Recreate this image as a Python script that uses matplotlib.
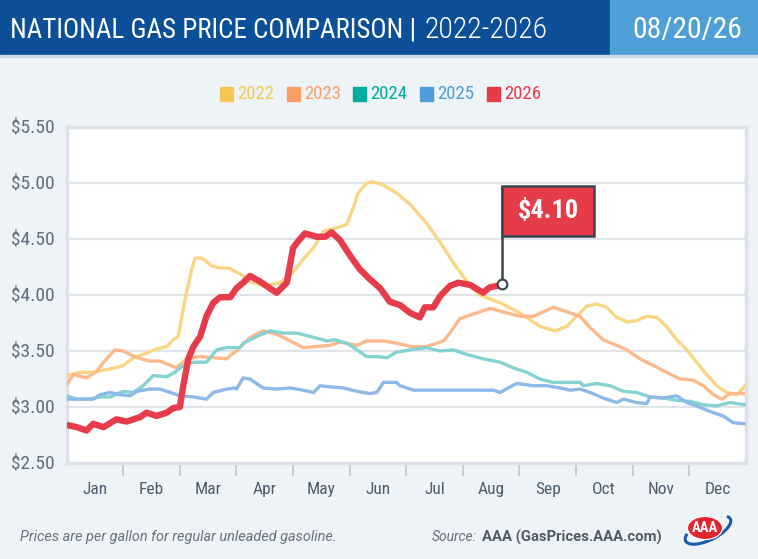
import matplotlib
matplotlib.use("Agg")
import matplotlib.pyplot as plt
import numpy as np
from matplotlib.patches import Rectangle, Ellipse
from matplotlib import font_manager

# month position (0 = Jan 1, 12 = Dec 31) and price
x22 = [0, 0.24, 0.47, 0.77, 1.00, 1.18, 1.41, 1.59, 1.77, 1.88, 1.97, 2.09, 2.21, 2.27, 2.39,
       2.56, 2.71, 2.86, 3.06, 3.24, 3.47, 3.77, 4.00, 4.18, 4.36, 4.54, 4.77, 4.95, 5.07, 5.15,
       5.30, 5.42, 5.60, 5.83, 6.07, 6.36, 6.60, 6.83, 7.07, 7.30, 7.66, 8.01, 8.36, 8.63, 8.84,
       9.01, 9.19, 9.37, 9.54, 9.72, 9.90, 10.07, 10.25, 10.43, 10.60, 10.78, 10.96, 11.13,
       11.31, 11.49, 11.66, 11.84, 11.99]
y22 = [3.28, 3.31, 3.31, 3.34, 3.37, 3.44, 3.48, 3.52, 3.54, 3.60, 3.63, 3.96, 4.23, 4.33, 4.33,
       4.26, 4.24, 4.24, 4.19, 4.12, 4.08, 4.11, 4.20, 4.32, 4.42, 4.57, 4.60, 4.63, 4.79, 4.91,
       5.00, 5.01, 4.98, 4.91, 4.81, 4.64, 4.47, 4.29, 4.12, 4.00, 3.93, 3.84, 3.72, 3.68, 3.72,
       3.81, 3.90, 3.92, 3.89, 3.80, 3.76, 3.77, 3.81, 3.80, 3.72, 3.60, 3.51, 3.40,
       3.29, 3.19, 3.13, 3.11, 3.19]

x23 = [0, 0.12, 0.35, 0.53, 0.65, 0.85, 1.00, 1.24, 1.47, 1.65, 1.94, 2.12, 2.36, 2.59, 2.83,
       2.89, 3.00, 3.24, 3.47, 3.71, 3.95, 4.18, 4.42, 4.65, 4.83, 5.13, 5.30, 5.60, 5.83, 6.07,
       6.36, 6.66, 6.77, 6.95, 7.19, 7.48, 7.78, 8.01, 8.25, 8.60, 8.84, 9.07, 9.25, 9.48, 9.72,
       9.90, 10.13, 10.37, 10.60, 10.84, 11.07, 11.25, 11.43, 11.58, 11.72, 11.96]
y23 = [3.20, 3.29, 3.26, 3.32, 3.40, 3.51, 3.50, 3.44, 3.41, 3.41, 3.35, 3.43, 3.45, 3.44, 3.43,
       3.46, 3.50, 3.62, 3.68, 3.65, 3.59, 3.53, 3.54, 3.55, 3.58, 3.55, 3.59, 3.59, 3.57, 3.54,
       3.54, 3.59, 3.66, 3.79, 3.83, 3.88, 3.84, 3.81, 3.81, 3.89, 3.85, 3.81, 3.71, 3.60, 3.55,
       3.51, 3.43, 3.37, 3.31, 3.25, 3.24, 3.19, 3.11, 3.07, 3.12, 3.12]

x24 = [0, 0.18, 0.41, 0.59, 0.77, 1.00, 1.18, 1.35, 1.53, 1.77, 1.91, 2.06, 2.24, 2.47, 2.65,
       2.83, 3.06, 3.12, 3.36, 3.59, 3.83, 4.07, 4.30, 4.60, 4.74, 4.95, 5.13, 5.30, 5.48, 5.66,
       5.83, 6.07, 6.36, 6.60, 6.83, 7.07, 7.36, 7.66, 7.89, 8.13, 8.36, 8.60, 8.84, 9.07, 9.13,
       9.37, 9.60, 9.84, 10.07, 10.31, 10.54, 10.78, 11.02, 11.25, 11.49, 11.72, 11.99]
y24 = [3.10, 3.07, 3.07, 3.09, 3.09, 3.14, 3.13, 3.19, 3.28, 3.27, 3.31, 3.37, 3.40, 3.40, 3.51,
       3.53, 3.53, 3.57, 3.63, 3.68, 3.66, 3.66, 3.63, 3.59, 3.60, 3.57, 3.51, 3.45, 3.45, 3.44,
       3.49, 3.51, 3.53, 3.50, 3.51, 3.47, 3.43, 3.40, 3.35, 3.31, 3.25, 3.22, 3.22, 3.22, 3.19,
       3.21, 3.19, 3.14, 3.13, 3.09, 3.08, 3.06, 3.05, 3.02, 3.01, 3.04, 3.02]

x25 = [0, 0.24, 0.47, 0.59, 0.77, 0.94, 1.12, 1.24, 1.47, 1.65, 1.83, 2.00, 2.24, 2.47, 2.59,
       2.83, 2.97, 3.00, 3.12, 3.24, 3.47, 3.71, 3.95, 4.18, 4.36, 4.48, 4.65, 4.89, 5.13, 5.36,
       5.48, 5.60, 5.83, 5.89, 6.13, 6.36, 6.60, 6.83, 7.07, 7.30, 7.54, 7.66, 7.95, 8.25, 8.48,
       8.72, 8.90, 9.07, 9.25, 9.48, 9.72, 9.84, 10.07, 10.25, 10.31, 10.54, 10.78, 10.96, 11.13,
       11.37, 11.60, 11.78, 11.99]
y25 = [3.07, 3.07, 3.07, 3.11, 3.13, 3.11, 3.10, 3.14, 3.16, 3.16, 3.13, 3.10, 3.09, 3.07, 3.13,
       3.16, 3.17, 3.16, 3.26, 3.25, 3.17, 3.16, 3.17, 3.15, 3.13, 3.19, 3.18, 3.17, 3.14, 3.12,
       3.13, 3.22, 3.22, 3.19, 3.15, 3.15, 3.15, 3.15, 3.15, 3.15, 3.15, 3.13, 3.21, 3.19, 3.19,
       3.17, 3.15, 3.16, 3.13, 3.08, 3.04, 3.07, 3.04, 3.03, 3.09, 3.08, 3.10, 3.04, 3.01,
       2.96, 2.92, 2.86, 2.85]

x26 = [0, 0.18, 0.35, 0.47, 0.65, 0.88, 1.06, 1.30, 1.41, 1.59, 1.77, 1.88, 2.00, 2.06, 2.15,
       2.24, 2.36, 2.47, 2.59, 2.71, 2.89, 3.00, 3.12, 3.24, 3.42, 3.59, 3.71, 3.89, 4.00, 4.09,
       4.21, 4.42, 4.57, 4.68, 4.83, 5.01, 5.18, 5.36, 5.54, 5.71, 5.89, 6.07, 6.24, 6.33, 6.48,
       6.60, 6.77, 6.92, 7.13, 7.36, 7.48, 7.60, 7.70]
y26 = [2.84, 2.82, 2.79, 2.85, 2.82, 2.89, 2.87, 2.91, 2.95, 2.92, 2.95, 2.99, 3.00, 3.19, 3.43,
       3.54, 3.63, 3.81, 3.93, 3.98, 3.98, 4.06, 4.11, 4.17, 4.12, 4.06, 4.02, 4.11, 4.42, 4.48,
       4.55, 4.52, 4.52, 4.56, 4.49, 4.35, 4.23, 4.14, 4.06, 3.94, 3.91, 3.84, 3.80, 3.89, 3.89,
       3.99, 4.08, 4.11, 4.09, 4.02, 4.07, 4.08, 4.10]

years = ["2022", "2023", "2024", "2025", "2026"]
months = ["Jan", "Feb", "Mar", "Apr", "May", "Jun", "Jul", "Aug", "Sep", "Oct", "Nov", "Dec"]
yticks = [2.5, 3.0, 3.5, 4.0, 4.5, 5.0, 5.5]

key_colors = ["#f4c84e", "#f99f66", "#00ada0", "#4c9dd8", "#e63c4a"]
line_colors = ["#f8d683", "#fdb98b", "#85d2d2", "#8cb9e8", "#e63c4a"]

names = {f.name for f in font_manager.fontManager.ttflist}
COND = [n for n in ["Roboto Condensed", "Liberation Sans Narrow"] if n in names] + ["DejaVu Sans"]
SANS = ["Roboto", "DejaVu Sans"]

W, H = 758, 559
fig = plt.figure(figsize=(W / 100, H / 100), dpi=100)
fig.patch.set_facecolor("#eef3f8")
renderer = fig.canvas.get_renderer()


def fx(px):
    return px / W


def fy(py):
    return 1 - py / H


def fit(txt, x0, x1, yc, size, **kw):
    # put a text between pixel columns x0 and x1, shrinking it if it is too wide
    t = fig.text(fx(x0), fy(yc), txt, fontsize=size, va="center", ha="left", **kw)
    w = t.get_window_extent(renderer).width
    t.set_fontsize(size * (x1 - x0) / w)
    return t


# header band
fig.patches.append(Rectangle((0, fy(55)), 1, 55 / H, transform=fig.transFigure,
                             color="#0b4f98", zorder=0))
fig.patches.append(Rectangle((fx(610), fy(55)), 1 - fx(610), 55 / H, transform=fig.transFigure,
                             color="#4f9fd9", zorder=1))
fig.patches.append(Rectangle((0, fy(57)), 1, 2 / H, transform=fig.transFigure,
                             color="#c9d9ea", zorder=1))
fit("NATIONAL GAS PRICE COMPARISON |", 10, 416, 30, 20, color="white", family=COND)
fit("2022-2026", 424, 548, 30, 20, color="white", family=COND, fontweight="light")
fit("08/20/26", 632, 742, 30, 22, color="white", family=COND)

# legend
for i, (yr, c) in enumerate(zip(years, key_colors)):
    x0 = 220 + i * 66.7
    fig.patches.append(Rectangle((fx(x0), fy(101)), 13 / W, 14 / H, transform=fig.transFigure,
                                 color=c))
    fig.text(fx(x0 + 17), fy(94.5), yr, color=c, fontsize=13.5, family=COND,
             va="center", ha="left")

ax = fig.add_axes([fx(66.7), fy(463), (745.7 - 66.7) / W, (463 - 127) / H])
ax.set_facecolor("white")
for s in ax.spines.values():
    s.set_color("#dde2e8")
    s.set_linewidth(2.5)

series = [(x22, y22), (x23, y23), (x24, y24), (x25, y25)]
for (xs, ys), c in zip(series, line_colors[:4]):
    ax.plot(xs, ys, color=c, lw=2.4, solid_joinstyle="round", zorder=3)
ax.plot(x26, y26, color=line_colors[4], lw=4.6, solid_joinstyle="round",
        solid_capstyle="round", zorder=5)

ax.set_xlim(0, 12)
ax.set_ylim(2.5, 5.5)
ax.set_yticks(yticks)
ax.set_yticklabels([f"${v:.2f}" for v in yticks], family=COND, fontsize=14, color="#5d6f80")
ax.yaxis.grid(True, color="#e1e4e9", lw=1.6, zorder=1)
ax.tick_params(axis="y", length=0, pad=9)

ax.set_xticks(range(1, 12))
ax.set_xticklabels([])
ax.set_xticks([m + 0.5 for m in range(12)], minor=True)
ax.set_xticklabels(months, minor=True, family=COND, fontsize=12.5, color="#4b5d6e")
ax.tick_params(axis="x", which="major", length=9, width=1.4, color="#c5ccd4", direction="out")
ax.tick_params(axis="x", which="minor", length=0, pad=14)

# flag on the latest price
lx, ly = x26[-1], y26[-1]
top = ly + 0.87
ax.plot([lx, lx], [ly, top], color="#37474f", lw=1.8, zorder=6, solid_capstyle="butt")
ax.add_patch(Rectangle((lx, top - 0.44), 1.62, 0.44, facecolor="#e63c4a",
                       edgecolor="#37474f", lw=1.8, zorder=7))
ax.text(lx + 0.81, top - 0.22, f"${ly:.2f}", color="white", fontsize=19, fontweight="bold",
        family=COND, ha="center", va="center", zorder=8)
ax.plot([lx], [ly], marker="o", ms=7, mfc="white", mec="#37474f", mew=1.5, zorder=9)

# footer
fit("Prices are per gallon for regular unleaded gasoline.", 20, 336, 537, 10,
    style="italic", color="#66727e", family=SANS)
fit("Source:", 432, 477, 537, 10, style="italic", color="#66727e", family=SANS)
fit("AAA (GasPrices.AAA.com)", 482, 663, 537, 10, fontweight="bold",
    color="#4f5b66", family=SANS)

# AAA logo
lax = fig.add_axes([fx(683), fy(552), 50 / W, 45 / H])
lax.set_xlim(0, 50)
lax.set_ylim(0, 45)
lax.axis("off")
t = np.linspace(0.9 * np.pi, 2.15 * np.pi, 60)
lax.plot(25 + 24 * np.cos(t) * 0.95, 22 + 11 * np.sin(t) + np.cos(t) * 9, color="#1d5aa8", lw=2.2)
lax.add_patch(Ellipse((22, 24), 35, 23, facecolor="#e0262f", edgecolor="white", lw=0.8, zorder=3))
lax.text(22, 24, "AAA", color="white", fontsize=10.5, fontweight="bold", family=COND,
         ha="center", va="center", zorder=4)

fig.savefig("out.png", dpi=100, facecolor=fig.get_facecolor())
